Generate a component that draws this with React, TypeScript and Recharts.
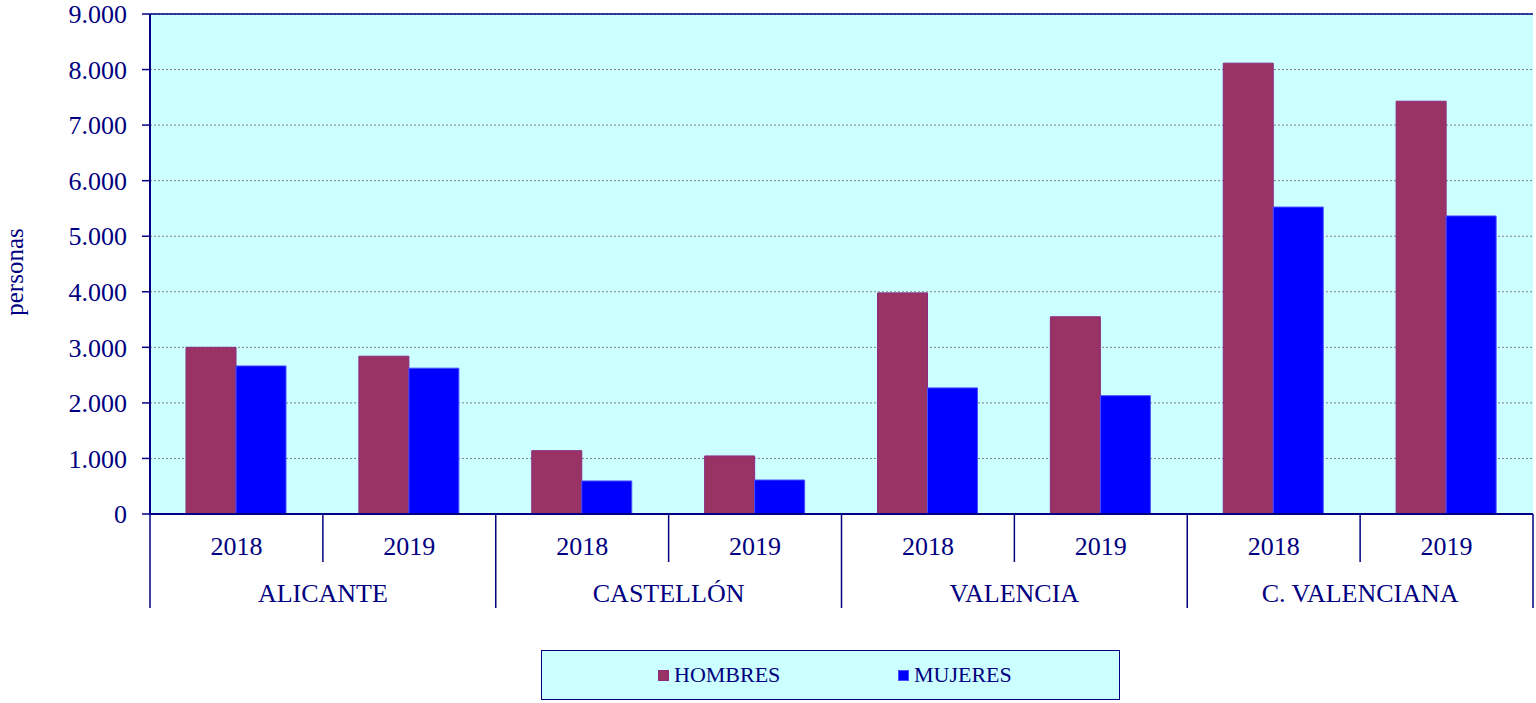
import React from 'react';
import { BarChart, Bar, XAxis, YAxis, CartesianGrid, Legend, ReferenceLine } from 'recharts';

const provincias = ['ALICANTE', 'CASTELLÓN', 'VALENCIA', 'C. VALENCIANA'];
const anios = ['2018', '2019'];
const hombres = [3000, 2840, 1140, 1045, 3980, 3550, 8115, 7430];
const mujeres = [2665, 2625, 595, 612, 2270, 2130, 5525, 5365];
const yTicks = [0, 1000, 2000, 3000, 4000, 5000, 6000, 7000, 8000, 9000];

const data = provincias.flatMap((prov, i) =>
  anios.map((anio, j) => ({
    key: `${prov}-${anio}`,
    prov,
    anio,
    hombres: hombres[i * 2 + j],
    mujeres: mujeres[i * 2 + j],
  }))
);

const NAVY = '#000080';
const FONT = '"Liberation Serif", "Times New Roman", serif';
const W = 1536;
const H = 703;
const PLOT_LEFT = 150;
const PLOT_RIGHT = 3;

const fmt = (v: number) => String(v).replace(/\B(?=(\d{3})+(?!\d))/g, '.');

const CategoryTick = (props: any) => {
  const { x, y, payload, index } = props;
  const half = payload?.offset || (W - PLOT_LEFT - PLOT_RIGHT) / 16;
  const row = data[index];
  const isEnd = index % 2 === 1;
  return (
    <g>
      <text x={x} y={y + 41} textAnchor="middle" fill={NAVY} fontSize={26} fontFamily={FONT}>
        {row.anio}
      </text>
      {index === 0 && (
        <line x1={x - half} x2={x - half} y1={y} y2={y + 94} stroke={NAVY} strokeWidth={1.5} />
      )}
      <line
        x1={x + half}
        x2={x + half}
        y1={y}
        y2={y + (isEnd ? 94 : 48)}
        stroke={NAVY}
        strokeWidth={1.5}
      />
      {isEnd && (
        <text x={x - half} y={y + 88} textAnchor="middle" fill={NAVY} fontSize={26} fontFamily={FONT}>
          {row.prov}
        </text>
      )}
    </g>
  );
};

const LegendBox = (props: any) => {
  const items = props.payload || [];
  const lefts = [116, 356];
  return (
    <div
      style={{
        position: 'relative',
        width: 579,
        height: 50,
        boxSizing: 'border-box',
        border: `1.5px solid ${NAVY}`,
        background: '#ccffff',
        fontFamily: FONT,
      }}
    >
      {items.map((it: any, i: number) => (
        <div
          key={it.value}
          style={{
            position: 'absolute',
            left: lefts[i],
            top: 11,
            display: 'flex',
            alignItems: 'center',
            color: NAVY,
            fontSize: 22,
            lineHeight: '26px',
          }}
        >
          <span
            style={{
              display: 'inline-block',
              width: 11,
              height: 11,
              background: it.color,
              border: `1px solid ${it.payload?.stroke || it.color}`,
              boxSizing: 'border-box',
              marginRight: 5,
            }}
          />
          {it.value}
        </div>
      ))}
    </div>
  );
};

export default function App() {
  return (
    <div style={{ position: 'absolute', left: 0, top: 0, width: W, height: H, background: '#fff' }}>
      <BarChart
        width={W}
        height={H}
        data={data}
        margin={{ top: 14, right: PLOT_RIGHT, bottom: 39, left: 0 }}
        barGap={0}
        barSize={50}
      >
        <CartesianGrid
          vertical={false}
          fill="#ccffff"
          stroke="#808080"
          strokeDasharray="2 2"
        />
        <ReferenceLine y={9000} stroke={NAVY} strokeWidth={1.5} />
        <Bar
          dataKey="hombres"
          name="HOMBRES"
          fill="#993366"
          stroke="#8b2a7e"
          strokeWidth={1}
          isAnimationActive={false}
        />
        <Bar
          dataKey="mujeres"
          name="MUJERES"
          fill="#0000ff"
          stroke="#4d4dff"
          strokeWidth={1}
          isAnimationActive={false}
        />
        <XAxis
          dataKey="key"
          height={100}
          interval={0}
          tickSize={0}
          tickMargin={0}
          tickLine={false}
          axisLine={{ stroke: NAVY, strokeWidth: 2 }}
          tick={<CategoryTick />}
        />
        <YAxis
          width={150}
          domain={[0, 9000]}
          ticks={yTicks}
          interval={0}
          tickFormatter={fmt}
          tickSize={8}
          tickMargin={15}
          tickLine={{ stroke: NAVY, strokeWidth: 1.5 }}
          axisLine={{ stroke: NAVY, strokeWidth: 2 }}
          tick={{ fill: NAVY, fontSize: 26, fontFamily: FONT }}
          label={{
            value: 'personas',
            angle: -90,
            position: 'insideLeft',
            offset: 14,
            dy: 8,
            style: { textAnchor: 'middle', fill: NAVY, fontSize: 25, fontFamily: FONT },
          }}
        />
        <YAxis
          yAxisId="right"
          orientation="right"
          width={0}
          tick={false}
          tickLine={false}
          axisLine={{ stroke: NAVY, strokeWidth: 1.5 }}
        />
        <Legend
          content={<LegendBox />}
          wrapperStyle={{ position: 'absolute', left: 541, top: 650, width: 579, height: 50, bottom: 'auto' }}
        />
      </BarChart>
    </div>
  );
}
